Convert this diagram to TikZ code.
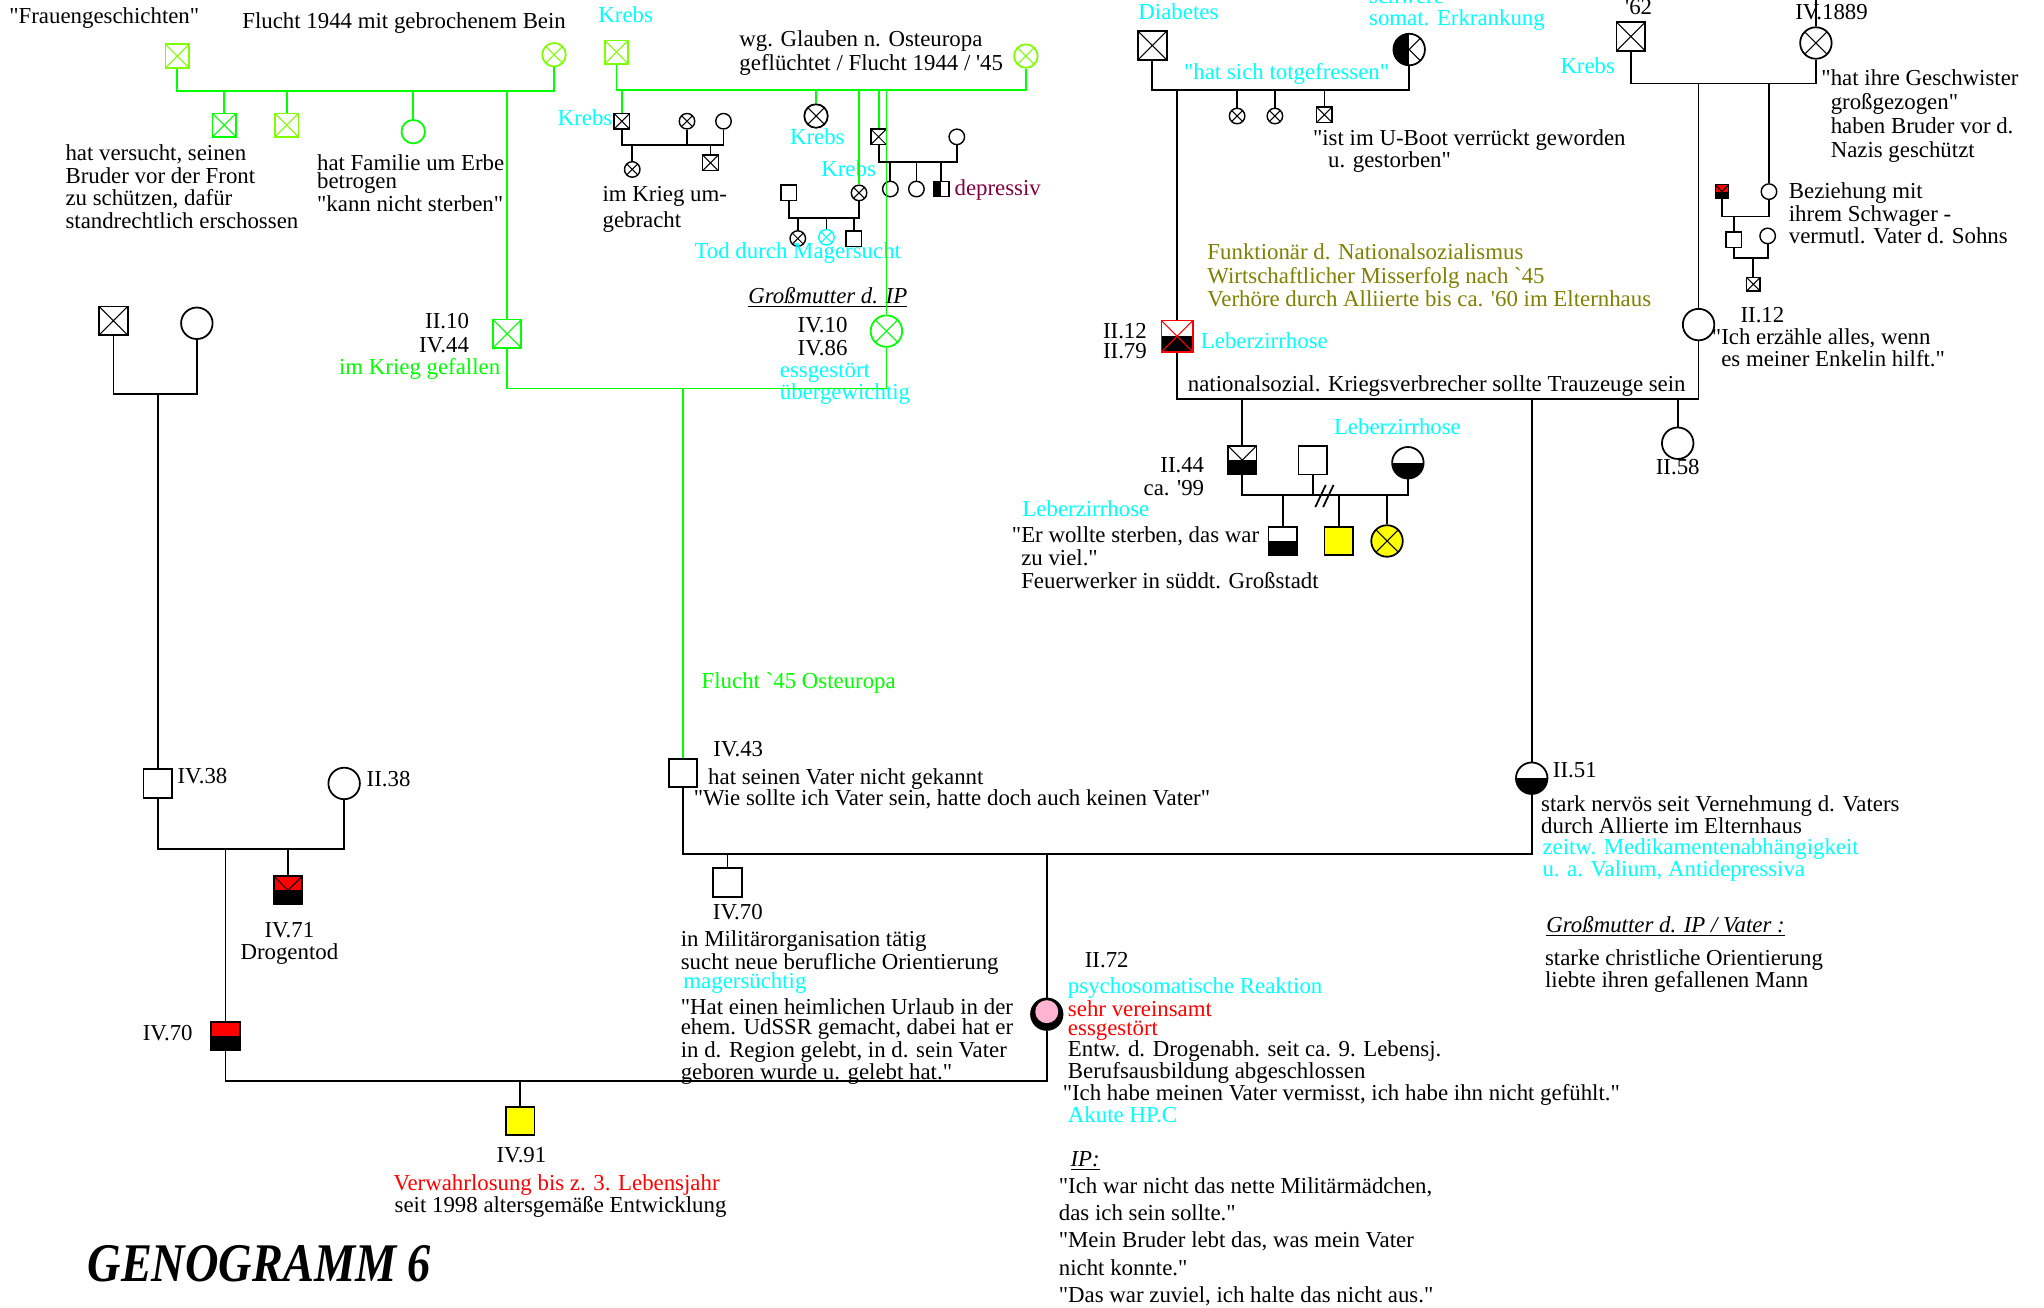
\documentclass[tikz,border=0pt]{standalone}
\usepackage{fontspec}
\setmainfont{Liberation Serif}[Ligatures=TeXOff]

\definecolor{gn}{RGB}{0,255,0}
\definecolor{lgn}{RGB}{128,255,0}
\definecolor{cy}{RGB}{0,255,255}
\definecolor{ol}{RGB}{128,128,0}
\definecolor{mr}{RGB}{128,0,64}
\definecolor{rd}{RGB}{255,0,0}
\definecolor{yl}{RGB}{255,255,0}
\definecolor{pk}{RGB}{255,180,210}

\begin{document}
\begin{tikzpicture}[
  x=0.026071cm, y=-0.026071cm,
  sq/.style={draw, rectangle, inner sep=0pt, minimum size=0.57cm, line width=1pt},
  ci/.style={draw, circle, inner sep=0pt, minimum size=0.63cm, line width=1pt},
  md/.style={minimum size=0.47cm},
  sm/.style={minimum size=0.31cm, line width=0.8pt},
  xl/.style={path picture={\draw[line width=0.6pt, #1]
      (path picture bounding box.north west) -- (path picture bounding box.south east)
      (path picture bounding box.south west) -- (path picture bounding box.north east);}},
  xl/.default=black,
  lowfill/.style={path picture={\fill[black] (path picture bounding box.west)
      rectangle (path picture bounding box.south east);}},
  leftfill/.style={path picture={\fill[black] (path picture bounding box.north west)
      rectangle (path picture bounding box.south);}},
  xlow/.style={path picture={\draw[line width=0.6pt]
      (path picture bounding box.north west) -- (path picture bounding box.south east)
      (path picture bounding box.south west) -- (path picture bounding box.north east);
      \fill[black] (path picture bounding box.west) rectangle (path picture bounding box.south east);}},
  xleft/.style={path picture={\draw[line width=0.6pt]
      (path picture bounding box.north west) -- (path picture bounding box.south east)
      (path picture bounding box.south west) -- (path picture bounding box.north east);
      \fill[black] (path picture bounding box.north west) rectangle (path picture bounding box.south);}},
  nazisq/.style={draw=rd, path picture={\fill[black] (path picture bounding box.west)
      rectangle (path picture bounding box.south east);
      \draw[rd, line width=0.6pt]
      (path picture bounding box.north west) -- (path picture bounding box.south east)
      (path picture bounding box.south west) -- (path picture bounding box.north east);}},
  pinkc/.style={fill=black, path picture={\fill[pk] ([yshift=0.05cm]path picture bounding box.center) circle (0.23cm);}},
  lk/.style={line width=1pt},
  gl/.style={line width=1pt, draw=gn},
  txt/.style={inner sep=0pt, align=left, anchor=north west, font=\fontsize{13}{#1}\selectfont},
  txt/.default=12.6,
  lbl/.style={inner sep=0pt, anchor=mid, font=\fontsize{13}{13}\selectfont}
]
\useasboundingbox (0,0) rectangle (1568,1003);
\fill[white] (0,0) rectangle (1568,1003);

% Urgrosseltern links oben (gruen)
\node[sq, md, draw=lgn, xl=lgn] (fgs) at (136,43) {};
\node[ci, md, draw=lgn, xl=lgn] (fbn) at (425,42) {};
\node[sq, md, draw=gn, xl=gn] (ch1) at (172,96) {};
\node[sq, md, draw=lgn, xl=lgn] (ch2) at (220,96) {};
\node[ci, md, draw=gn] (ch3) at (317,101) {};
\node[sq, draw=gn, xl=gn] (ii10) at (389,256) {};
\node[lbl] (tfrauen) at (80,15) {"Frauengeschichten"};
\node[lbl] (tflucht) at (310,19) {Flucht 1944 mit gebrochenem Bein};
\node[txt=12.8] (tversucht) at (50,111) {hat versucht, seinen\\Bruder vor der Front\\zu schützen, dafür\\standrechtlich erschossen};
\node[txt=10.7] (terbe) at (243,118) {hat Familie um Erbe\\betrogen\\"kann nicht sterben"};
\node[txt=14, align=right, anchor=north east] (tii10) at (360,240) {II.10\\IV.44};
\node[lbl, anchor=mid east, text=gn] (tgef) at (384,284) {im Krieg gefallen};

\coordinate (fl1) at (0,70);
\draw[gl] (fgs.south) |- (fl1 -| fbn.south) -- (fbn.south);
\foreach \c in {ch1,ch2,ch3,ii10} \draw[gl] (fl1 -| \c.north) -- (\c.north);

% Urgrosseltern Mitte (gruen)
\node[lbl, text=cy] (tkr1) at (480,14) {Krebs};
\node[sq, md, draw=lgn, xl=lgn] (gq) at (473,40) {};
\node[ci, md, draw=lgn, xl=lgn] (gc) at (787,43) {};
\node[txt=14] (tglauben) at (567,23) {wg. Glauben n. Osteuropa\\geflüchtet / Flucht 1944 / '45};

\node[sq, sm, xl] (a1) at (477,93) {};
\node[ci, sm, xl] (a2) at (527,93) {};
\node[ci, sm] (a3) at (555,93) {};
\node[ci, sm, xl] (a4) at (485,130) {};
\node[sq, sm, xl] (a5) at (545,125) {};
\node[lbl, anchor=mid east, text=cy] (tkr2) at (470,93) {Krebs};
\node[txt=14.8] (tumgebr) at (462,143) {im Krieg um-\\gebracht};

\node[ci, md, xl] (b0) at (626,89) {};
\node[lbl, text=cy] (tkr3) at (627,108) {Krebs};
\node[sq, sm] (b1) at (605,148) {};
\node[ci, sm, xl] (b2) at (659,148) {};
\node[lbl, text=cy] (tkr4) at (651,132) {Krebs};
\node[ci, sm, xl] (b3) at (612,183) {};
\node[ci, sm, draw=cy, xl=cy] (b4) at (634,182) {};
\node[sq, sm] (b5) at (655,183) {};
\node[lbl, text=cy] (tmager) at (612,195) {Tod durch Magersucht};

\node[sq, sm, xl] (c1) at (674,105) {};
\node[ci, sm] (c2) at (734,105) {};
\node[ci, sm] (c3) at (683,145) {};
\node[ci, sm] (c4) at (703,145) {};
\node[sq, sm, leftfill] (c5) at (722,145) {};
\node[lbl, anchor=mid west, text=mr] (tdepr) at (732,147) {depressiv};

\node[ci, draw=gn, xl=gn] (iv10) at (680,254) {};
\node[lbl] (tgm) at (635,230) {\underline{\textit{Großmutter d. IP}}};
\node[txt=13.3, align=center, anchor=north] (tiv10) at (631,243) {IV.10\\IV.86};
\node[txt=11, text=cy] (tess) at (598,278) {essgestört\\übergewichtig};

\coordinate (ml) at (0,69);
\draw[gl] (gq.south) |- (ml -| gc.south) -- (gc.south);
\foreach \c in {a1,b0,b2,c1,iv10} \draw[gl] (ml -| \c.north) -- (\c.north);
\coordinate (al) at (0,111);
\draw[lk] (a1.south) |- (al -| a3.south) -- (a3.south);
\foreach \c in {a2} \draw[lk] (al -| \c.south) -- (\c.south);
\foreach \c in {a4,a5} \draw[lk] (al -| \c.north) -- (\c.north);
\coordinate (bl) at (0,167);
\draw[lk] (b1.south) |- (bl -| b2.south) -- (b2.south);
\foreach \c in {b3,b4,b5} \draw[lk] (bl -| \c.north) -- (\c.north);
\coordinate (cl) at (0,124);
\draw[lk] (c1.south) |- (cl -| c2.south) -- (c2.south);
\foreach \c in {c3,c4,c5} \draw[lk] (cl -| \c.north) -- (\c.north);

% Grosseltern II.10 / IV.10
\node[sq] (iv43) at (524,593) {};
\coordinate (gl2) at (0,298);
\draw[gl] (ii10.south) |- (gl2 -| iv10.south) -- (iv10.south);
\draw[gl] (gl2 -| iv43.north) -- (iv43.north);
\node[lbl, anchor=mid west, text=gn] (tflucht2) at (538,525) {Flucht `45 Osteuropa};

% Urgrosseltern rechts oben
\node[lbl, text=cy] (tdiab) at (904,12) {Diabetes};
\node[sq, xl] (da) at (884,35) {};
\node[txt, text=cy] (tsomat) at (1050,-10) {schwere\\somat. Erkrankung};
\node[ci, xleft] (sm) at (1081,38) {};
\node[lbl, text=cy] (ttot) at (987,58) {"hat sich totgefressen"};
\node[ci, sm, xl] (d1) at (949,89) {};
\node[ci, sm, xl] (d2) at (978,89) {};
\node[sq, sm, xl] (d3) at (1016,88) {};
\node[txt] (tuboot) at (1007,99) {"ist im U-Boot verrückt geworden\\\hphantom{"} u. gestorben"};
\node[txt=13.3, text=ol] (tfunk) at (926,187) {Funktionär d. Nationalsozialismus\\Wirtschaftlicher Misserfolg nach `45\\Verhöre durch Alliierte bis ca. '60 im Elternhaus};
\node[sq, nazisq, minimum size=0.63cm] (ii12a) at (903,258) {};
\node[txt=11, align=right, anchor=north east] (tii12a) at (880,248) {II.12\\II.79};
\node[lbl, anchor=mid west, text=cy] (tleb1) at (921,264) {Leberzirrhose};

\node[lbl] (t62) at (1257,8) {'62};
\node[sq, xl] (ea) at (1251,28) {};
\node[lbl, text=cy] (tkr5) at (1218,53) {Krebs};
\node[lbl] (t1889) at (1405,12) {IV.1889};
\node[ci, xl] (eb) at (1393,33) {};
\coordinate (etop) at (1393,0);
\node[txt=13.7] (tgesch) at (1397,53) {"hat ihre Geschwister\\\hphantom{"}großgezogen"\\\hphantom{"}haben Bruder vor d.\\\hphantom{"}Nazis geschützt};
\node[sq, minimum size=0.27cm, line width=0.6pt, fill=rd, xlow] (f1) at (1321,147) {};
\node[ci, sm] (f2) at (1357,147) {};
\node[txt=11.8] (tbez) at (1372,140) {Beziehung mit\\ihrem Schwager -\\vermutl. Vater d. Sohns};
\node[sq, sm] (f3) at (1330,184) {};
\node[ci, sm] (f4) at (1356,181) {};
\node[sq, sm, minimum size=0.27cm, xl] (f5) at (1345,218) {};
\node[ci] (ii12b) at (1303,249) {};
\node[lbl] (tii12b) at (1352,244) {II.12};
\node[txt] (tenkel) at (1313,252) {"Ich erzähle alles, wenn\\\hphantom{"}es meiner Enkelin hilft."};

\coordinate (dl) at (0,69);
\draw[lk] (da.south) |- (dl -| sm.south) -- (sm.south);
\foreach \c in {ii12a,d1,d2,d3} \draw[lk] (dl -| \c.north) -- (\c.north);
\coordinate (el) at (0,64);
\draw[lk] (ea.south) |- (el -| eb.south) -- (eb.south);
\draw[lk] (eb.north) -- (etop);
\foreach \c in {ii12b,f2} \draw[lk] (el -| \c.north) -- (\c.north);
\coordinate (fl) at (0,166);
\draw[lk] (f1.south) |- (fl -| f2.south) -- (f2.south);
\draw[lk] (fl -| f3.north) -- (f3.north);
\coordinate (fl2) at (0,198);
\draw[lk] (f3.south) |- (fl2 -| f4.south) -- (f4.south);
\draw[lk] (fl2 -| f5.north) -- (f5.north);

% Eltern der Mutter
\node[lbl, anchor=mid west] (tnazi) at (911,297) {nationalsozial. Kriegsverbrecher sollte Trauzeuge sein};
\node[sq, xlow] (ii44) at (953,353) {};
\node[txt=12.6, align=right, anchor=north east] (tii44) at (924,351) {II.44\\ca. '99};
\node[sq] (g2) at (1007,353) {};
\node[ci, lowfill] (g3) at (1080,355) {};
\node[lbl, text=cy] (tleb2) at (1072,330) {Leberzirrhose};
\node[sq, lowfill] (h1) at (984,415) {};
\node[sq, fill=yl] (h2) at (1027,415) {};
\node[ci, fill=yl, xl] (h3) at (1064,415) {};
\node[lbl, text=cy] (tleb3) at (833,393) {Leberzirrhose};
\node[txt=12.9] (tsterben) at (776,404) {"Er wollte sterben, das war\\\hphantom{"}zu viel."\\\hphantom{"}Feuerwerker in süddt. Großstadt};
\node[ci] (ii58) at (1287,340) {};
\node[lbl] (tii58) at (1287,361) {II.58};
\node[ci, lowfill] (ii51) at (1175,597) {};
\node[lbl, anchor=mid west] (tii51) at (1191,593) {II.51};
\node[txt=11.8] (tnervoes) at (1182,610) {stark nervös seit Vernehmung d. Vaters\\durch Allierte im Elternhaus};
\node[txt=9.8, text=cy] (tmedi) at (1183,643) {zeitw. Medikamentenabhängigkeit\\u. a. Valium, Antidepressiva};
\node[lbl, anchor=mid west] (tgmv) at (1186,712) {\underline{\textit{Großmutter d. IP / Vater :}}};
\node[txt] (tchrist) at (1185,728) {starke christliche Orientierung\\liebte ihren gefallenen Mann};

\coordinate (nl) at (0,306);
\draw[lk] (ii12a.south) |- (nl -| ii12b.south) -- (ii12b.south);
\foreach \c in {ii44,ii51,ii58} \draw[lk] (nl -| \c.north) -- (\c.north);
\coordinate (hl) at (0,380);
\draw[lk] (ii44.south) |- (hl -| g3.south) -- (g3.south);
\draw[lk] (hl -| g2.south) -- (g2.south);
\foreach \c in {h1,h2,h3} \draw[lk] (hl -| \c.north) -- (\c.north);
\draw[lk] (1009,389) -- (1017,372) (1015,389) -- (1023,372);

% Familie des Vaters links
\node[sq, xl] (la) at (87,246) {};
\node[ci] (lb) at (151,248) {};
\node[sq] (iv38) at (121,601) {};
\node[lbl, anchor=mid west] (tiv38) at (136,598) {IV.38};
\node[ci] (ii38) at (264,601) {};
\node[lbl, anchor=mid west] (tii38) at (281,600) {II.38};
\node[sq, fill=rd, xlow] (iv71) at (221,683) {};
\node[txt=13, align=center, anchor=north] (tiv71) at (222,707) {IV.71\\Drogentod};
\node[sq, fill=rd, lowfill] (iv70a) at (173,795) {};
\node[lbl, anchor=mid east] (tiv70a) at (148,795) {IV.70};

\coordinate (ll) at (0,302);
\draw[lk] (la.south) |- (ll -| lb.south) -- (lb.south);
\draw[lk] (ll -| iv38.north) -- (iv38.north);
\coordinate (ll2) at (0,651);
\draw[lk] (iv38.south) |- (ll2 -| ii38.south) -- (ii38.south);
\foreach \c in {iv70a,iv71} \draw[lk] (ll2 -| \c.north) -- (\c.north);

% Eltern IV.43 / II.51 und Kinder
\node[lbl, anchor=mid west] (tiv43) at (547,577) {IV.43};
\node[lbl, anchor=mid west] (tkannt) at (543,599) {hat seinen Vater nicht gekannt};
\node[lbl, anchor=mid west] (twie) at (532,615) {"Wie sollte ich Vater sein, hatte doch auch keinen Vater"};
\node[sq] (iv70b) at (558,677) {};
\node[lbl] (tiv70b) at (566,702) {IV.70};
\node[txt] (tmilit) at (522,714) {in Militärorganisation tätig\\sucht neue berufliche Orientierung};
\node[lbl, anchor=mid west, text=cy] (tmagers) at (524,755) {magersüchtig};
\node[txt=11.3] (turlaub) at (522,766) {"Hat einen heimlichen Urlaub in der\\ehem. UdSSR gemacht, dabei hat er\\in d. Region gelebt, in d. sein Vater\\geboren wurde u. gelebt hat."};
\node[ci, pinkc] (ii72) at (803,778) {};
\node[lbl] (tii72) at (849,739) {II.72};
\node[lbl, anchor=mid west, text=cy] (tpsych) at (819,759) {psychosomatische Reaktion};
\node[txt=11, text=rd] (tverein) at (819,767) {sehr vereinsamt\\essgestört};
\node[txt] (tdrog) at (819,798) {Entw. d. Drogenabh. seit ca. 9. Lebensj.\\Berufsausbildung abgeschlossen};
\node[lbl, anchor=mid west] (tvermisst) at (815,841) {"Ich habe meinen Vater vermisst, ich habe ihn nicht gefühlt."};
\node[lbl, anchor=mid west, text=cy] (takut) at (819,858) {Akute HP.C};
\node[lbl, anchor=mid west] (tip) at (821,892) {\underline{\textit{IP:}}};
\node[txt=15.5] (tipquote) at (812,903) {"Ich war nicht das nette Militärmädchen,\\das ich sein sollte."\\"Mein Bruder lebt das, was mein Vater\\nicht konnte."\\"Das war zuviel, ich halte das nicht aus."};

\coordinate (pl) at (0,655);
\draw[lk] (iv43.south) |- (pl -| ii51.south) -- (ii51.south);
\foreach \c in {iv70b,ii72} \draw[lk] (pl -| \c.north) -- (\c.north);

% Ehe IV.70 / II.72
\node[sq, fill=yl] (iv91) at (399,860) {};
\node[lbl] (tiv91) at (400,889) {IV.91};
\node[lbl, text=rd] (tverw) at (427,910) {Verwahrlosung bis z. 3. Lebensjahr};
\node[lbl] (tseit) at (430,927) {seit 1998 altersgemäße Entwicklung};
\coordinate (ql) at (0,829);
\draw[lk] (iv70a.south) |- (ql -| ii72.south) -- (ii72.south);
\draw[lk] (ql -| iv91.north) -- (iv91.north);

\node[inner sep=0pt, anchor=mid west, font=\fontsize{31}{31}\selectfont\bfseries\itshape] (title) at (67,980) {\scalebox{0.85}[1]{GENOGRAMM 6}};
\end{tikzpicture}
\end{document}
